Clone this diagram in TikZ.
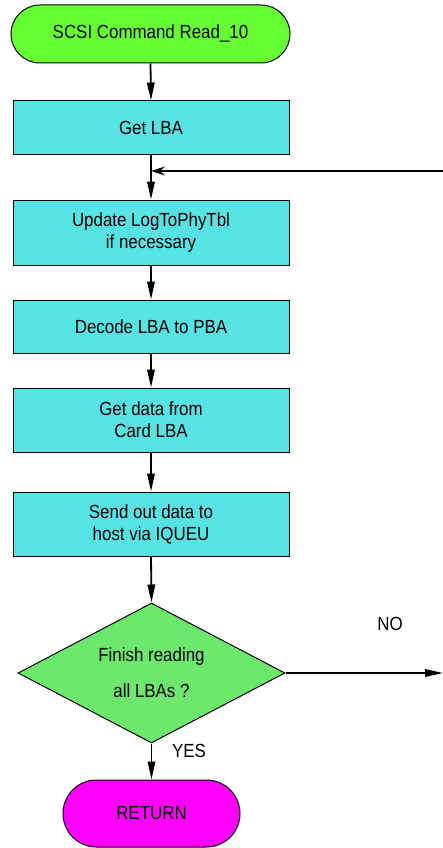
\documentclass[tikz,border=0pt]{standalone}
\usepackage{fontspec}
\setmainfont{Liberation Sans}[FakeStretch=0.89]
\usetikzlibrary{shapes.geometric,shapes.misc,arrows.meta}
\definecolor{startgreen}{RGB}{102,255,51}
\definecolor{boxcyan}{RGB}{87,227,227}
\definecolor{decgreen}{RGB}{108,232,108}
\definecolor{retmag}{RGB}{255,0,255}
\begin{document}
\begin{tikzpicture}[x=1pt,y=-1pt,
  txt/.style={font=\fontsize{19}{22}\selectfont},
  proc/.style={txt, draw=black, line width=1pt, fill=boxcyan, minimum width=276pt, inner sep=0pt, align=center},
  term/.style={txt, rounded rectangle, draw=black, line width=1pt, inner sep=0pt},
  decision/.style={font=\fontsize{19}{36}\selectfont, diamond, aspect=1.9, draw=black, line width=1pt, fill=decgreen, minimum width=267pt, minimum height=140pt, inner sep=0pt, align=center},
  flow/.style={line width=1.8pt, -{Triangle[length=18pt,width=7.5pt]}},
  loopflow/.style={line width=1.8pt, -{Stealth[length=14pt,width=9pt,inset=5pt]}},
  lbl/.style={txt}]
\useasboundingbox (0,0) rectangle (443,848);
\node[term, fill=startgreen, minimum width=279pt, minimum height=58pt] (start) at (150.5,34) {SCSI Command Read\_10};
\node[proc, minimum height=53pt] (getlba) at (151,127.5) {Get LBA};
\node[proc, minimum height=65pt] (update) at (151,232.5) {Update LogToPhyTbl\\if necessary};
\node[proc, minimum height=53pt] (decode) at (151,326.5) {Decode LBA to PBA};
\node[proc, minimum height=64pt] (getdata) at (151,420) {Get data from\\Card LBA};
\node[proc, minimum height=64pt] (send) at (151,524) {Send out data to\\host via IQUEU};
\node[decision] (dec) at (151.5,673) {Finish reading\\all LBAs ?};
\node[term, fill=retmag, minimum width=177pt, minimum height=67pt] (ret) at (151.5,813.5) {RETURN};
\node[lbl] (no) at (390,624) {NO};
\node[lbl] (yes) at (189,751) {YES};
\coordinate (loopin) at (443,171);
\coordinate (join) at (151,171);
\coordinate (noout) at (443,673);
\draw[flow] (start.south) -- (getlba.north);
\draw[flow] (getlba.south) -- (update.north);
\draw[loopflow] (loopin) -- (join);
\draw[flow] (update.south) -- (decode.north);
\draw[flow] (decode.south) -- (getdata.north);
\draw[flow] (getdata.south) -- (send.north);
\draw[flow] (send.south) -- (dec.north);
\draw[flow] (dec.east) -- (noout);
\draw[flow] (dec.south) -- (ret.north);
\end{tikzpicture}
\end{document}
